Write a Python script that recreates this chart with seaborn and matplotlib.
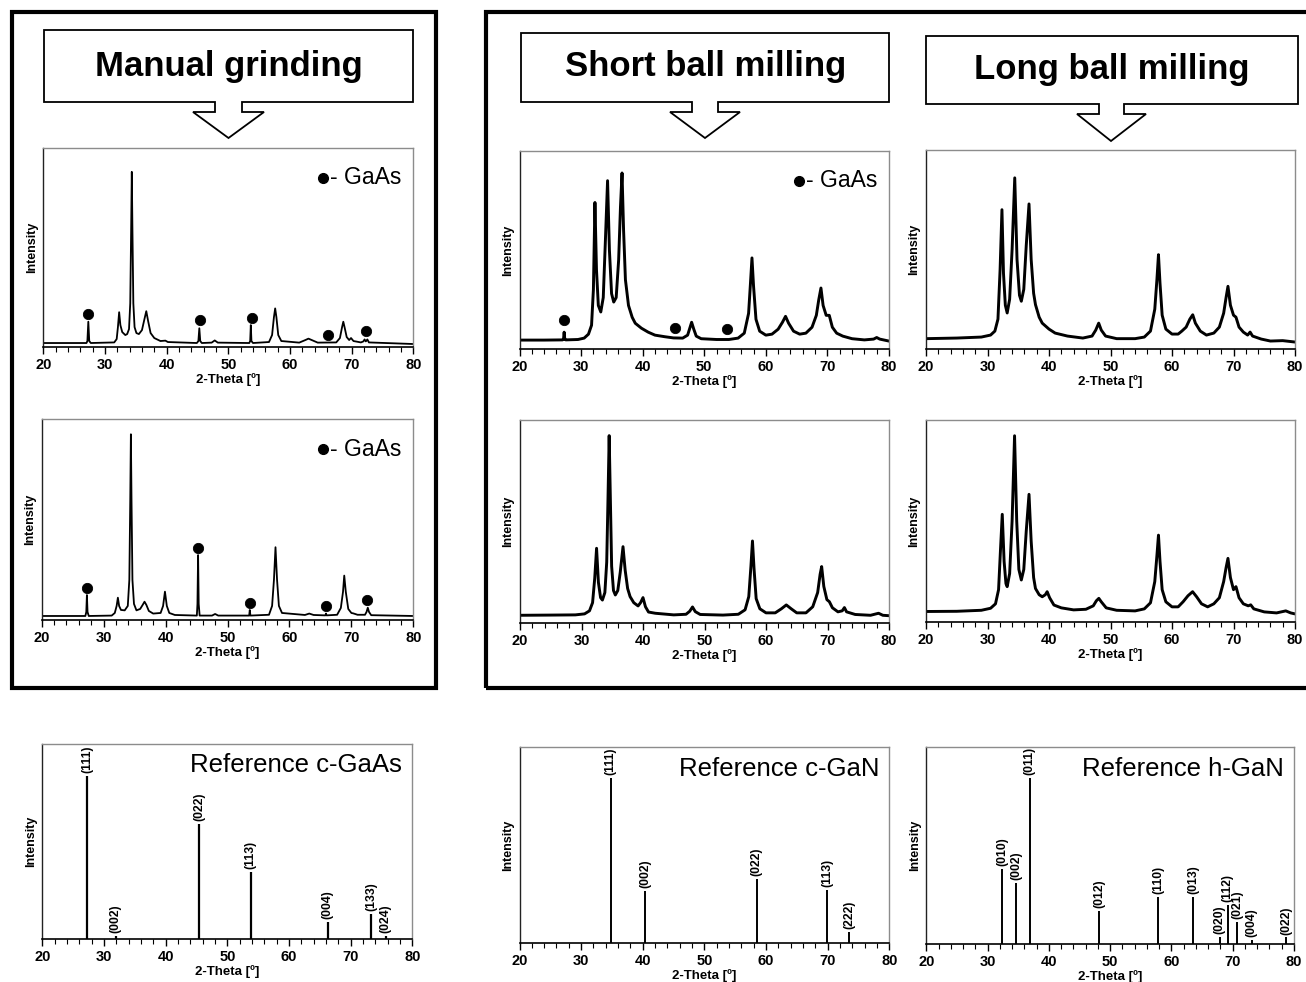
import matplotlib
matplotlib.use("Agg")
import matplotlib.pyplot as plt
import seaborn as sns
import pandas as pd
from matplotlib.patches import Rectangle, Polygon
from matplotlib.ticker import MultipleLocator

# ---------------- data ----------------
XTICKS = [20, 30, 40, 50, 60, 70, 80]

# Manual grinding, top
M1_X = [20, 27.0, 27.15, 27.3, 27.45, 27.7, 31.5, 31.9, 32.1, 32.3, 32.5, 32.8, 33.3, 33.6, 33.9, 34.1,
        34.25, 34.35, 34.45, 34.6, 34.8, 35.1, 35.5, 36.0, 36.4, 36.7, 37.0, 37.4, 38.0, 39.0, 39.8,
        40.2, 44.9, 45.15, 45.3, 45.45, 45.7, 47.3, 47.8, 48.3, 53.4, 53.55, 53.65, 53.75, 54.0, 56.6,
        57.1, 57.4, 57.6, 57.8, 58.1, 58.6, 61.5, 62.5, 63.0, 63.6, 64.5, 67.5, 68.1, 68.45, 68.65,
        68.85, 69.2, 69.6, 69.9, 70.3, 71.5, 71.9, 72.1, 72.3, 72.55, 72.8, 80]
M1_Y = [2.0, 2.0, 3, 12.7, 3, 2.0, 2.3, 4, 10, 17.5, 11, 7.5, 6.0, 6.5, 9, 22,
        60, 88, 60, 22, 10, 7, 6.5, 8.5, 14, 18, 13, 7, 4.5, 3, 3.2,
        2.5, 2.0, 3, 9.4, 3, 2.0, 2.2, 3.3, 2.2, 2.0, 3, 11, 3, 2.0, 2.5,
        6, 15, 19.4, 15, 6, 3, 2.2, 3.5, 4.2, 3.4, 2.2, 2.3, 4.5, 10, 12.7,
        10, 5, 3.5, 4.5, 3, 2.3, 2.8, 3.8, 2.8, 3.8, 2.3, 1.5]
M1_DOT_X = [27.25, 45.4, 53.8, 66.1, 72.4]
M1_DOT_Y = [16.6, 13.6, 14.6, 6.0, 8.0]

# Manual grinding, bottom
M2_X = [20, 27.05, 27.2, 27.3, 27.4, 27.6, 31.3, 31.8, 32.1, 32.3, 32.5, 32.8, 33.4, 33.9, 34.15, 34.3,
        34.4, 34.5, 34.65, 34.9, 35.3, 35.9, 36.3, 36.6, 36.9, 37.3, 38.0, 39.2, 39.6, 39.9, 40.2,
        40.6, 41.5, 45.05, 45.15, 45.25, 45.35, 45.5, 47.5, 48.0, 48.5, 53.5, 53.6, 53.7, 56.7, 57.2,
        57.5, 57.75, 58.0, 58.3, 58.8, 62.5, 63.2, 63.9, 65.8, 65.9, 66.0, 67.7, 68.3, 68.65, 68.85,
        69.1, 69.5, 70.0, 70.3, 71.0, 72.2, 72.45, 72.65, 72.85, 73.2, 80]
M2_Y = [2.0, 2.0, 4, 12.4, 4, 2.0, 2.2, 3.5, 7, 11.1, 7, 5, 4.8, 7, 20, 60,
        92.4, 60, 20, 8, 4.8, 5.5, 7.5, 9.1, 7.5, 4.5, 3.2, 3.5, 7, 14.1, 7,
        3.5, 2.5, 2.2, 8, 32.3, 8, 2.2, 2.2, 3, 2.2, 2.2, 5, 2.2, 2.6, 7,
        20, 36.2, 20, 7, 3.5, 2.5, 3.2, 2.5, 2.3, 3.2, 2.3, 2.6, 6, 14, 22.1,
        14, 5.5, 3.5, 3.3, 2.6, 2.6, 4, 6.1, 4, 2.4, 2.0]
M2_DOT_X = [27.3, 45.25, 53.65, 65.9, 72.6]
M2_DOT_Y = [16.1, 36.0, 8.6, 6.8, 10.0]

# Short ball milling, top
S1_X = [20, 24, 27.0, 27.15, 27.25, 27.35, 27.5, 29.5, 30.5, 31.2, 31.7, 32.0, 32.25, 32.5, 32.8, 33.2,
        33.6, 33.95, 34.3, 34.6, 34.95, 35.3, 35.7, 36.1, 36.4, 36.65, 36.9, 37.2, 37.7, 38.3, 38.8,
        39.8, 40.9, 42, 43.6, 45, 46.5, 47.3, 47.65, 47.95, 48.3, 48.7, 49.5, 52, 54, 55.5, 56.5,
        57.2, 57.5, 57.75, 58.0, 58.4, 59, 60, 61, 62, 62.7, 63.2, 63.7, 64.5, 65.5, 66.5, 67.5,
        68.2, 68.6, 68.95, 69.3, 69.8, 70.3, 70.8, 71.5, 72.5, 74, 76, 77.5, 78, 78.5, 80]
S1_Y = [4.5, 4.5, 4.6, 5, 8.5, 5, 4.6, 4.8, 5.5, 7.5, 12, 30, 74, 40, 22, 18.7,
        26, 55, 85, 50, 28, 23.7, 26, 45, 72, 88.9, 60, 35, 22, 16, 13,
        10.5, 8.5, 7, 6.2, 5.6, 5.5, 7, 10.5, 13.5, 10, 6.5, 5.2, 4.8, 4.8, 5.5, 8,
        18, 33, 46, 32, 15, 9, 7, 7.5, 10, 13.5, 16.5, 13, 9, 7.5, 8, 11,
        17, 25, 30.8, 22, 17, 17, 11, 8, 6.5, 5.2, 4.6, 5, 5.8, 5, 4.0]
S1_DOT_X = [27.2, 45.25, 53.7]
S1_DOT_Y = [14.6, 10.6, 10.1]

# Long ball milling, top
L1_X = [20, 25, 29, 30.5, 31.2, 31.7, 32.05, 32.35, 32.6, 32.9, 33.2, 33.6, 34.0, 34.43, 34.8, 35.2,
        35.5, 35.9, 36.3, 36.75, 37.1, 37.5, 37.8, 38.4, 38.9, 40, 41, 43, 45.5, 47, 47.6, 48.08,
        48.5, 49.2, 51, 54, 55.5, 56.5, 57.2, 57.55, 57.8, 58.05, 58.4, 59, 60, 61, 61.6, 62.3,
        62.9, 63.37, 63.8, 64.6, 65.6, 66.8, 67.7, 68.4, 68.8, 69.1, 69.5, 70.0, 70.4, 70.9, 71.6,
        72.3, 72.7, 73.1, 74.5, 76, 78, 80]
L1_Y = [5.2, 5.5, 6, 7, 9, 15, 40, 70, 38, 22, 18.1, 25, 50, 86, 45, 27,
        24, 30, 52, 72.9, 45, 28, 22.3, 16, 13, 10, 8, 6.5, 5.5, 6.5, 9.5, 13,
        9.5, 6.5, 5.2, 5.2, 6, 9, 20, 35, 47.4, 33, 17, 10, 7.5, 7.5, 9, 11,
        15, 17.2, 13, 9, 7, 8, 11, 18, 26, 31.5, 22, 17, 16, 11, 8.5,
        7, 8.5, 6.5, 5, 4, 4.2, 3.5]

# Short ball milling, bottom
S2_X = [20, 25, 29, 30.5, 31.3, 31.8, 32.15, 32.45, 32.75, 33.1, 33.4, 33.8, 34.1, 34.3, 34.5, 34.7,
        34.9, 35.2, 35.5, 35.9, 36.3, 36.75, 37.1, 37.5, 37.9, 38.5, 39.2, 39.6, 40.0, 40.4, 40.9,
        42, 45, 47, 47.6, 48.05, 48.5, 49.3, 53, 55.5, 56.6, 57.2, 57.55, 57.8, 58.05, 58.4, 59,
        60, 61.5, 62.5, 63.3, 64.1, 65, 66.5, 67.6, 68.4, 68.8, 69.05, 69.4, 69.9, 70.3, 70.8,
        71.7, 72.4, 72.75, 73.1, 74.5, 77, 78.3, 79, 80]
S2_Y = [3.8, 3.9, 4, 4.5, 6, 10, 22, 36.8, 20, 12.5, 11.3, 15, 30, 60, 92.3, 60,
        28, 16, 13.8, 16, 25, 37.6, 26, 17, 13, 10, 8.4, 10, 12.5, 8, 5.4,
        4.8, 4.0, 4.3, 5.8, 7.9, 5.6, 4.2, 3.9, 4.3, 6.5, 13, 28, 40.4, 27, 12, 7,
        5, 5, 7, 8.9, 7, 5, 5, 8, 15, 24, 27.8, 18, 11.5, 10.5, 7.5,
        5.5, 6, 7.6, 5.5, 4.2, 3.8, 4.8, 3.8, 3.6]

# Long ball milling, bottom
L2_X = [20, 25, 29, 30.5, 31.3, 31.8, 32.1, 32.4, 32.7, 33.0, 33.2, 33.6, 34.0, 34.4, 34.75, 35.1,
        35.5, 35.9, 36.3, 36.75, 37.1, 37.5, 37.8, 38.4, 38.9, 39.4, 39.7, 40.1, 40.8, 42, 44, 46,
        47.2, 47.7, 48.1, 48.5, 49.3, 51, 54, 55.5, 56.5, 57.2, 57.55, 57.8, 58.05, 58.4, 59, 60,
        61, 61.8, 62.6, 63.35, 64, 64.8, 65.8, 66.8, 67.7, 68.4, 68.8, 69.1, 69.5, 70.0, 70.4,
        70.9, 71.6, 72.4, 72.8, 73.3, 75, 77, 78.5, 79.3, 80]
L2_Y = [5.2, 5.3, 5.8, 6.8, 9, 16, 35, 53.3, 30, 19, 17.5, 24, 50, 92.2, 50, 26,
        20.8, 26, 45, 63.2, 40, 22, 16.6, 13.5, 12.5, 13.5, 15, 12, 8.4, 7, 6, 6.3,
        8, 10.5, 11.7, 10, 7, 5.8, 5.5, 6.5, 9.5, 20, 33, 43, 30, 16, 10, 7.5,
        7.5, 10, 13, 15, 12.5, 9, 7.5, 9, 12, 20, 27, 31.5, 22, 16, 17.5,
        12, 9, 8, 8.5, 6.5, 5, 4.5, 5.5, 4.5, 4.0]

# Reference patterns
GAAS_POS = [27.3, 31.9, 45.4, 53.8, 66.3, 73.3, 75.7]
GAAS_INT = [83.6, 1.5, 58.8, 34.5, 8.9, 12.7, 1.7]
GAAS_HKL = ["(111)", "(002)", "(022)", "(113)", "(004)", "(133)", "(024)"]

CGAN_POS = [34.8, 40.4, 58.5, 69.9, 73.5]
CGAN_INT = [84.3, 26.5, 32.5, 27.0, 5.8]
CGAN_HKL = ["(111)", "(002)", "(022)", "(113)", "(222)"]

HGAN_POS = [32.4, 34.7, 36.9, 48.2, 57.8, 63.6, 67.9, 69.2, 70.7, 73.1, 78.7]
HGAN_INT = [38.1, 30.9, 84.3, 17.0, 24.1, 24.1, 3.5, 19.9, 11.1, 2.2, 3.3]
HGAN_HKL = ["(010)", "(002)", "(011)", "(012)", "(110)", "(013)", "(020)", "(112)", "(021)",
            "(004)", "(022)"]

HEADERS = ["Manual grinding", "Short ball milling", "Long ball milling"]
REF_TITLES = ["Reference c-GaAs", "Reference c-GaN", "Reference h-GaN"]

# ---------------- figure ----------------
W, H = 1306, 982
sns.set_theme(style="ticks")
plt.rcParams["font.family"] = ["Liberation Sans", "DejaVu Sans"]
plt.rcParams["text.color"] = "black"
plt.rcParams["axes.labelcolor"] = "black"
plt.rcParams["xtick.color"] = "black"
plt.rcParams["ytick.color"] = "black"
fig = plt.figure(figsize=(W / 100, H / 100), dpi=100)
fig.patch.set_facecolor("white")


def fpt(x, y):
    return (x / W, 1 - y / H)


def px_ax(l, t, r, b):
    return fig.add_axes([l / W, 1 - b / H, (r - l) / W, (b - t) / H])


# outer frames
for (x0, y0, x1, y1) in [(12, 12, 436, 688), (486, 12, 1325, 688)]:
    fig.add_artist(Rectangle(fpt(x0, y1), (x1 - x0) / W, (y1 - y0) / H, transform=fig.transFigure,
                             fill=False, lw=3.0, ec="black", clip_on=False))


def header(box, stem, tri, tip, text, tx, ty):
    x0, y0, x1, y1 = box
    s0, s1, sy = stem
    t0, t1 = tri
    pts = [(x0, y0), (x1, y0), (x1, y1), (s1, y1), (s1, sy), (t1, sy), tip, (t0, sy), (s0, sy),
           (s0, y1), (x0, y1)]
    fig.add_artist(Polygon([fpt(*p) for p in pts], closed=True, transform=fig.transFigure,
                           fc="white", ec="black", lw=1.3))
    fig.text(tx / W, 1 - ty / H, text, ha="center", va="baseline", fontsize=25,
             fontweight="bold", color="black")


header((44, 30, 413, 102), (215, 242, 112), (193, 264), (228.5, 138), HEADERS[0], 228.5, 76)
header((521, 33, 889, 102), (692, 718, 112), (670, 740), (705, 138), HEADERS[1], 706, 76)
header((926, 36, 1298, 104), (1099, 1124, 114), (1077, 1146), (1111, 141), HEADERS[2], 1112, 79)


def style(ax):
    ax.set_xlim(20, 80)
    ax.set_ylim(0, 100)
    ax.set_yticks([])
    ax.set_xticks(XTICKS)
    ax.set_xticklabels([str(t) for t in XTICKS], fontsize=10.5, fontweight="bold", color="black")
    ax.xaxis.set_minor_locator(MultipleLocator(2))
    ax.tick_params(axis="x", which="major", direction="out", length=5, width=1.0,
                   color="black", pad=3)
    ax.tick_params(axis="x", which="minor", direction="out", length=3.5, width=0.8,
                   color="black")
    ax.spines["left"].set_color("#222222")
    ax.spines["bottom"].set_color("black")
    ax.spines["top"].set_color("#8c8c8c")
    ax.spines["right"].set_color("#8c8c8c")
    for s in ax.spines.values():
        s.set_linewidth(1.0)
    ax.spines["bottom"].set_linewidth(1.2)
    ax.set_xlabel("2-Theta [º]", fontsize=9.5, fontweight="bold", labelpad=1, color="black")
    ax.set_ylabel("Intensity", fontsize=9, fontweight="bold", labelpad=4, color="black")


def spectrum(ax, xs, ys, lw):
    df = pd.DataFrame({"two_theta": xs, "intensity": ys})
    sns.lineplot(data=df, x="two_theta", y="intensity", ax=ax, color="black", lw=lw,
                 estimator=None, sort=False)


def dots(ax, xs, ys):
    sns.scatterplot(x=xs, y=ys, ax=ax, color="black", s=55, edgecolor="black", zorder=4)


def gaas_key(ax, xk):
    ax.plot([xk], [0.85], "o", color="black", ms=7, transform=ax.transAxes, clip_on=False)
    ax.text(xk + 0.018, 0.85, "- GaAs", transform=ax.transAxes, ha="left", va="center",
            fontsize=16.5, color="black")


def sticks(ax, pos, inten, hkl, lw):
    df = pd.DataFrame({"two_theta": pos, "intensity": inten, "hkl": hkl})
    ax.vlines(df["two_theta"], 0, df["intensity"], color="black", lw=lw)
    for _, r in df.iterrows():
        ax.text(r["two_theta"], r["intensity"] + 1.5, r["hkl"], rotation=90, ha="center",
                va="bottom", fontsize=8.8, fontweight="bold", color="black")


def ref_title(ax, text):
    ax.text(0.973, 0.89, text, transform=ax.transAxes, ha="right", va="center", fontsize=18.5,
            color="black")


# row 1
ax = px_ax(43.3, 148, 413.3, 347)
spectrum(ax, M1_X, M1_Y, 1.3)
dots(ax, M1_DOT_X, M1_DOT_Y)
style(ax)
gaas_key(ax, 0.757)

ax = px_ax(519.5, 151, 889, 349)
spectrum(ax, S1_X, S1_Y, 2.1)
dots(ax, S1_DOT_X, S1_DOT_Y)
style(ax)
gaas_key(ax, 0.757)

ax = px_ax(926, 150, 1295, 349)
spectrum(ax, L1_X, L1_Y, 2.1)
style(ax)

# row 2
ax = px_ax(41.7, 419, 413.3, 620)
spectrum(ax, M2_X, M2_Y, 1.3)
dots(ax, M2_DOT_X, M2_DOT_Y)
style(ax)
gaas_key(ax, 0.757)

ax = px_ax(520, 420, 889, 623)
spectrum(ax, S2_X, S2_Y, 2.1)
style(ax)

ax = px_ax(926, 420, 1295, 622)
spectrum(ax, L2_X, L2_Y, 2.1)
style(ax)

# row 3: references
ax = px_ax(42.3, 744, 412.3, 939)
sticks(ax, GAAS_POS, GAAS_INT, GAAS_HKL, 1.6)
style(ax)
ref_title(ax, REF_TITLES[0])

ax = px_ax(519.5, 747, 889.4, 943)
sticks(ax, CGAN_POS, CGAN_INT, CGAN_HKL, 1.4)
style(ax)
ref_title(ax, REF_TITLES[1])

ax = px_ax(926.3, 747, 1294, 944)
sticks(ax, HGAN_POS, HGAN_INT, HGAN_HKL, 1.4)
style(ax)
ref_title(ax, REF_TITLES[2])

fig.savefig("out.png", dpi=100, facecolor="white")
